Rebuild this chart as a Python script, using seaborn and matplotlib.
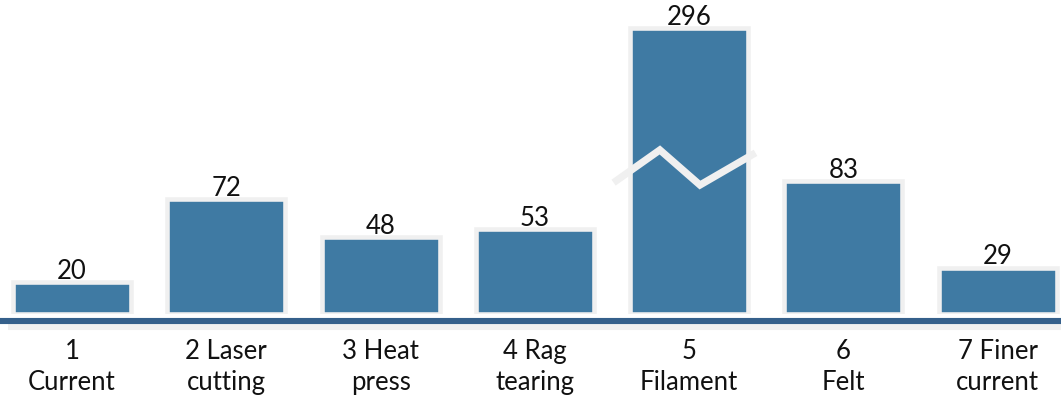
import numpy as np
import matplotlib
matplotlib.use("Agg")
import matplotlib.pyplot as plt
import matplotlib.patheffects as pe
import seaborn as sns

# Data
categories = ["1\nCurrent", "2 Laser\ncutting", "3 Heat\npress", "4 Rag\ntearing",
              "5\nFilament", "6\nFelt", "7 Finer\ncurrent"]
values = [20, 72, 48, 53, 296, 83, 29]
value_labels = ["20", "72", "48", "53", "296", "83", "29"]

# Broken value axis: above BREAK the scale is compressed
BREAK = 100.0
SQUEEZE = 0.4


def fwd(y):
    y = np.asarray(y, dtype=float)
    return np.where(y <= BREAK, y, BREAK + (y - BREAK) * SQUEEZE)


def inv(y):
    y = np.asarray(y, dtype=float)
    return np.where(y <= BREAK, y, BREAK + (y - BREAK) / SQUEEZE)


BAR = "#3f7aa3"
EDGE = "#f0f0f0"
AXIS = "#35608b"
FS = 18.5

sns.set_theme(style="white")
plt.rcParams["font.family"] = ["Lato", "DejaVu Sans"]

W, H = 1061, 398
fig = plt.figure(figsize=(W / 100, H / 100), dpi=100)
ax = fig.add_axes([0, (H - 314) / H, 1, 314 / H])

sns.barplot(x=categories, y=values, color=BAR, saturation=1, width=0.765,
            edgecolor=EDGE, linewidth=3.3, ax=ax, zorder=2)

ax.set_yscale("function", functions=(fwd, inv))
ax.set_xlim(-0.467, 6.41)
ax.set_ylim(0, float(inv(196.0)))

for s in ["top", "left", "right"]:
    ax.spines[s].set_visible(False)
sp = ax.spines["bottom"]
sp.set_position(("outward", 5))
sp.set_color(AXIS)
sp.set_linewidth(4.4)
sp.set_capstyle("butt")
sp.set_path_effects([pe.SimpleLineShadow(offset=(5.5, -4.5), shadow_color="#f0f0f0",
                                         alpha=1.0), pe.Normal()])

ax.set_yticks([])
ax.set_xlabel("")
ax.set_ylabel("")
ax.tick_params(axis="x", length=0, pad=13, labelsize=FS, labelcolor="#111111")
for t in ax.get_xticklabels():
    t.set_linespacing(1.3)

# Value labels above each bar
for i, (v, lab) in enumerate(zip(values, value_labels)):
    ax.annotate(lab, (i, v), xytext=(0, 2.2), textcoords="offset points",
                ha="center", va="baseline", fontsize=FS, color="#111111",
                zorder=5)

# Break marker across the tall bar
ib = int(np.argmax(values))
zx = ib + np.array([-0.49, -0.19, 0.07, 0.43])
zy = BREAK + np.array([-18.0, 6.0, -19.5, 1.5])
ax.plot(zx, zy, color=EDGE, lw=5.2, solid_joinstyle="miter",
        solid_capstyle="butt", zorder=4, clip_on=False)

fig.savefig("out.png", dpi=100)
